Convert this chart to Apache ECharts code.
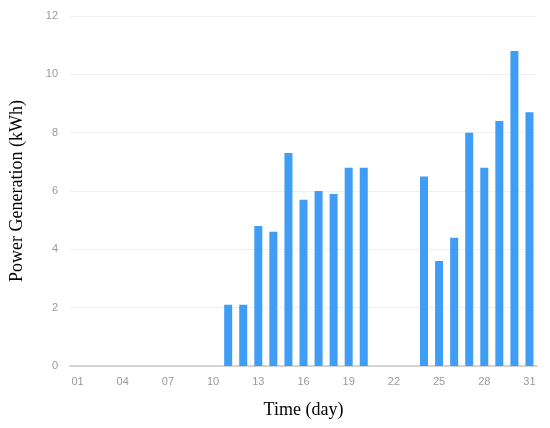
<!DOCTYPE html>
<html><head><meta charset="utf-8">
<script src="https://cdn.jsdelivr.net/npm/echarts@6/dist/echarts.min.js"></script>
<style>html,body{margin:0;padding:0;background:#fff}#c{width:550px;height:428px}</style>
</head><body><div id="c"></div>
<script>
var days = ['01','02','03','04','05','06','07','08','09','10','11','12','13','14','15','16','17','18','19','20','21','22','23','24','25','26','27','28','29','30','31'];
var power = [0,0,0,0,0,0,0,0,0,0,2.1,2.1,4.8,4.6,7.3,5.7,6.0,5.9,6.8,6.8,0,0,0,6.5,3.6,4.4,8.0,6.8,8.4,10.8,8.7];
var yTicks = {min:0, max:12, interval:2};

var chart = echarts.init(document.getElementById('c'));
chart.setOption({
  animation:false,
  grid:{left:68, right:13, top:16, bottom:62},
  xAxis:{
    type:'category', data:days, boundaryGap:true,
    name:'Time (day)', nameLocation:'middle', nameGap:35,
    nameTextStyle:{fontFamily:'Liberation Serif', fontSize:18, color:'#000'},
    axisLine:{lineStyle:{color:'#c8c8c8', width:1.5}},
    axisTick:{show:false},
    axisLabel:{interval:2, color:'#9a9a9a', fontSize:11, fontFamily:'Liberation Sans', margin:10}
  },
  yAxis:{
    type:'value', min:yTicks.min, max:yTicks.max, interval:yTicks.interval,
    name:'Power Generation (kWh)', nameLocation:'middle', nameGap:44,
    nameTextStyle:{fontFamily:'Liberation Serif', fontSize:18, color:'#000'},
    axisLine:{show:false}, axisTick:{show:false},
    axisLabel:{color:'#9a9a9a', fontSize:11, fontFamily:'Liberation Sans', margin:12},
    splitLine:{lineStyle:{color:'#efefef', width:1}}
  },
  series:[{
    type:'bar', data:power, barWidth:8,
    itemStyle:{color:'#3f9df5'}
  }]
});
</script></body></html>
